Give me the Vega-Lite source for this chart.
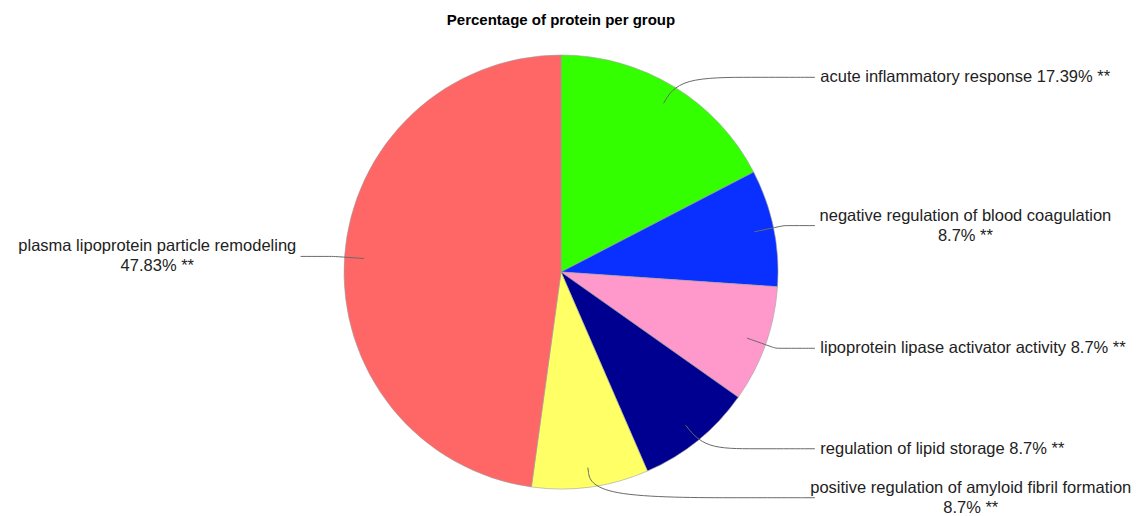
{
  "$schema": "https://vega.github.io/schema/vega-lite/v6.json",
  "width": 1122,
  "height": 476,
  "autosize": "none",
  "padding": {"left": 0, "top": 34, "right": 21, "bottom": 6},
  "title": {"text": "Percentage of protein per group", "font": "Liberation Sans", "fontSize": 15, "fontWeight": "bold", "color": "#000000", "anchor": "middle", "offset": 6},
  "config": {"view": {"stroke": null}},
  "data": {"values": [
    {"idx": 1, "group": "acute inflammatory response", "pct": 17.39, "label": "acute inflammatory response 17.39% **"},
    {"idx": 2, "group": "negative regulation of blood coagulation", "pct": 8.7, "label": "negative regulation of blood coagulation\n8.7% **"},
    {"idx": 3, "group": "lipoprotein lipase activator activity", "pct": 8.7, "label": "lipoprotein lipase activator activity 8.7% **"},
    {"idx": 4, "group": "regulation of lipid storage", "pct": 8.7, "label": "regulation of lipid storage 8.7% **"},
    {"idx": 5, "group": "positive regulation of amyloid fibril formation", "pct": 8.7, "label": "positive regulation of amyloid fibril formation\n8.7% **"},
    {"idx": 6, "group": "plasma lipoprotein particle remodeling", "pct": 47.83, "label": "plasma lipoprotein particle remodeling\n47.83% **"}
  ]},
  "transform": [
    {"window": [{"op": "sum", "field": "pct", "as": "cum"}], "sort": [{"field": "idx"}]},
    {"joinaggregate": [{"op": "sum", "field": "pct", "as": "total"}]},
    {"calculate": "2*PI*(datum.cum - datum.pct/2)/datum.total", "as": "ang"},
    {"calculate": "sin(datum.ang) >= 0", "as": "right"},
    {"calculate": "1.05*cos(datum.ang)", "as": "ly"},
    {"calculate": "datum.right ? 1.17 : -1.2", "as": "ex"},
    {"calculate": "indexof(datum.label, '\\n') >= 0", "as": "multi"},
    {"calculate": "length(split(datum.label, '\\n')[0]) * 7.2 / 217", "as": "est"}
  ],
  "layer": [
    {
      "mark": {"type": "arc", "radius": 217, "stroke": "#a0a0a0", "strokeWidth": 0.6},
      "encoding": {
        "theta": {"field": "pct", "type": "quantitative", "stack": true},
        "order": {"field": "idx", "type": "quantitative"},
        "color": {
          "field": "group", "type": "nominal", "legend": null,
          "scale": {
            "domain": ["acute inflammatory response", "negative regulation of blood coagulation", "lipoprotein lipase activator activity", "regulation of lipid storage", "positive regulation of amyloid fibril formation", "plasma lipoprotein particle remodeling"],
            "range": ["#33ff00", "#0a30ff", "#ff99cc", "#000090", "#ffff66", "#ff6666"]
          }
        }
      }
    },
    {
      "transform": [
        {"calculate": "[0,1,2,3]", "as": "k"},
        {"flatten": ["k"]},
        {"calculate": "datum.k == 0 ? 0.91*sin(datum.ang) : datum.k == 1 ? 1.05*sin(datum.ang) : datum.k == 2 ? (datum.right ? max(1.05*sin(datum.ang), datum.ex - 0.28) : min(1.05*sin(datum.ang), datum.ex + 0.28)) : datum.ex", "as": "lx"},
        {"calculate": "datum.k == 0 ? 0.91*cos(datum.ang) : datum.k == 1 ? 1.05*cos(datum.ang) : datum.ly", "as": "lyy"}
      ],
      "mark": {"type": "line", "interpolate": "basis", "color": "#6a6a6a", "strokeWidth": 1},
      "encoding": {
        "x": {"field": "lx", "type": "quantitative", "axis": null, "scale": {"domain": [-2.5853, 2.5853], "nice": false, "zero": false}},
        "y": {"field": "lyy", "type": "quantitative", "axis": null, "scale": {"domain": [-1.0968, 1.0968], "nice": false, "zero": false}},
        "detail": {"field": "group", "type": "nominal"},
        "order": {"field": "k", "type": "quantitative"}
      }
    },
    {
      "transform": [{"filter": "datum.right && !datum.multi"}, {"calculate": "datum.ex + 0.025", "as": "tx"}],
      "mark": {"type": "text", "align": "left", "baseline": "middle", "font": "Liberation Sans", "fontSize": 16.5, "lineHeight": 20, "lineBreak": "\n", "color": "#222222"},
      "encoding": {
        "x": {"field": "tx", "type": "quantitative", "axis": null, "scale": {"domain": [-2.5853, 2.5853], "nice": false, "zero": false}},
        "y": {"field": "ly", "type": "quantitative", "axis": null, "scale": {"domain": [-1.0968, 1.0968], "nice": false, "zero": false}},
        "text": {"field": "label", "type": "nominal"}
      }
    },
    {
      "transform": [{"filter": "datum.right && datum.multi"}, {"calculate": "min(datum.ex + 0.03 + datum.est/2, 2.668 - datum.est/2)", "as": "tx"}],
      "mark": {"type": "text", "align": "center", "baseline": "middle", "dy": -10, "font": "Liberation Sans", "fontSize": 16.5, "lineHeight": 20, "lineBreak": "\n", "color": "#222222"},
      "encoding": {
        "x": {"field": "tx", "type": "quantitative", "axis": null, "scale": {"domain": [-2.5853, 2.5853], "nice": false, "zero": false}},
        "y": {"field": "ly", "type": "quantitative", "axis": null, "scale": {"domain": [-1.0968, 1.0968], "nice": false, "zero": false}},
        "text": {"field": "label", "type": "nominal"}
      }
    },
    {
      "transform": [{"filter": "!datum.right"}, {"calculate": "datum.ex - 0.03 - datum.est/2", "as": "tx"}],
      "mark": {"type": "text", "align": "center", "baseline": "middle", "dy": -10, "font": "Liberation Sans", "fontSize": 16.5, "lineHeight": 20, "lineBreak": "\n", "color": "#222222"},
      "encoding": {
        "x": {"field": "tx", "type": "quantitative", "axis": null, "scale": {"domain": [-2.5853, 2.5853], "nice": false, "zero": false}},
        "y": {"field": "ly", "type": "quantitative", "axis": null, "scale": {"domain": [-1.0968, 1.0968], "nice": false, "zero": false}},
        "text": {"field": "label", "type": "nominal"}
      }
    }
  ]
}
